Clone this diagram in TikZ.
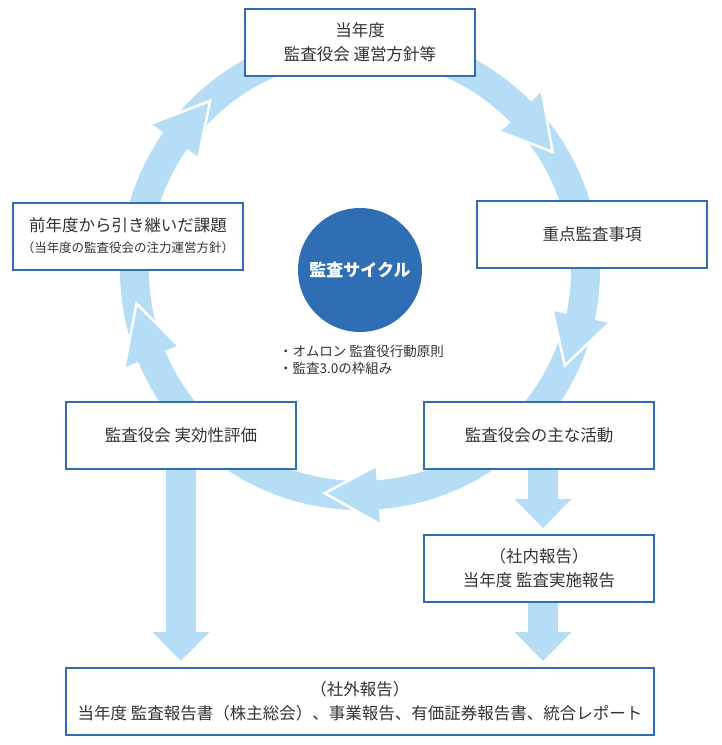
\documentclass[tikz,border=0pt]{standalone}
\usepackage{fontspec}
\setmainfont{Noto Sans CJK JP}
\usetikzlibrary{arrows.meta,backgrounds}
\definecolor{boxblue}{HTML}{2F6EB5}
\definecolor{ringblue}{HTML}{B5DDF5}
\definecolor{textgray}{HTML}{333333}
\begin{document}
\begin{tikzpicture}[x=1pt, y=1pt,
    stagebox/.style={draw=boxblue, line width=2pt, fill=white, text=textgray,
       minimum width=230pt, minimum height=67pt, align=center, inner sep=0pt,
       font=\fontsize{16.5}{24}\selectfont},
    hubdisc/.style={circle, fill=boxblue, text=white, minimum size=124pt,
       inner sep=0pt, font=\fontsize{17}{20}\selectfont\bfseries},
    flow/.style={ringblue, line width=30pt, shorten >=6pt,
       -{Triangle[length=29pt, width=57pt, line width=0pt]}},
    ringhead/.style={fill=ringblue},
    headedge/.style={draw=white, line width=2.5pt}]

\useasboundingbox (0,0) rectangle (722,-745);

\node[hubdisc] (hub) at (360,-270) {監査サイクル};
\node[anchor=west, align=left, inner sep=0pt, text=textgray,
      font=\fontsize{13.5}{17}\selectfont] (basis) at (279,-359.5)
      {・オムロン 監査役行動原則\\・監査3.0の枠組み};

\node[stagebox] (plan) at (360,-42.5) {当年度\\監査役会 運営方針等};
\node[stagebox] (focus) at (592,-234.5) {重点監査事項};
\node[stagebox] (carry) at (128,-236)
      {前年度から引き継いだ課題\\[-3pt]{\fontsize{12.5}{16}\selectfont （当年度の監査役会の注力運営方針）}};
\node[stagebox] (work) at (539,-435.5) {監査役会の主な活動};
\node[stagebox] (rate) at (181,-435.5) {監査役会 実効性評価};
\node[stagebox] (inner) at (539,-568.5) {（社内報告）\\当年度 監査実施報告};
\node[stagebox, minimum width=588pt] (report) at (360,-701.5)
      {（社外報告）\\当年度 監査報告書（株主総会）、事業報告、有価証券報告書、統合レポート};

\coordinate (workfoot) at ([xshift=4pt]work.south);
\coordinate (innerfoot) at ([xshift=4pt]inner.south);

\begin{scope}[on background layer]
  \draw[ringblue, line width=29pt] (hub.center) circle[radius=225.5pt];
  \begin{scope}[shift={(hub.center)}]
    \foreach \back/\tip in {44.5/31.5, -12/-25, -85.5/-99, 202.5/188.5, 145/131.5}{
      \fill[ringhead] (\back:197) -- (\tip:226) -- (\back:255) -- cycle;
      \draw[headedge] (\back:197) -- (\tip:226) -- (\back:255);
    }
  \end{scope}
  \draw[flow] (rate.south) -- (rate.south |- report.north);
  \draw[flow] (workfoot) -- (workfoot |- inner.north);
  \draw[flow] (innerfoot) -- (innerfoot |- report.north);
\end{scope}

\end{tikzpicture}
\end{document}
